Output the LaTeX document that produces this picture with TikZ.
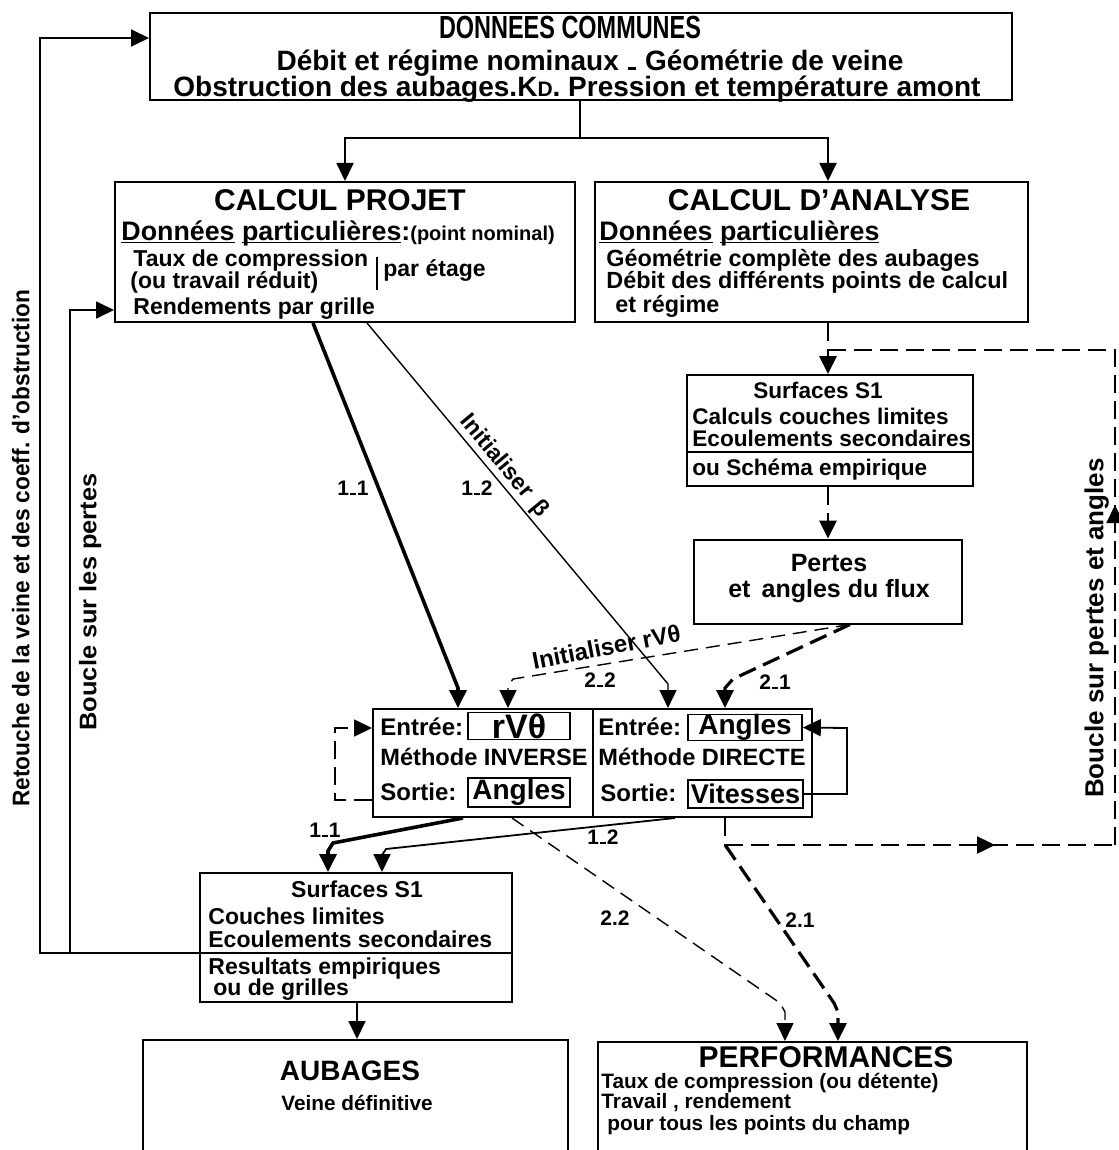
\documentclass[tikz,border=0pt]{standalone}
\usepackage{fontspec}
\setmainfont{Liberation Sans}
\usetikzlibrary{arrows.meta,calc}
\newlength\pxu \setlength\pxu{0.5pt}
\newcommand\fz[1]{\fontsize{#1}{#1}\selectfont}
\newcommand\fitw[2]{\resizebox{#1\pxu}{\height}{#2}}
\newcommand\lowdash{\kern0.04em\rule{0.3em}{0.1em}\kern0.04em}
\newcommand\undl[1]{\setbox0\hbox{#1}\rlap{\rule[-0.12em]{\wd0}{0.07em}}\box0\relax}
\begin{document}
\begin{tikzpicture}[x=0.5pt,y=-0.5pt,font=\bfseries,
  box/.style={draw,line width=1pt,inner sep=0pt},
  sbox/.style={draw,line width=0.8pt,inner sep=0pt},
  ln/.style={line width=0.9pt},
  lnthk/.style={line width=1.8pt},
  lnthin/.style={line width=0.7pt},
  dsh/.style={dash pattern=on 9pt off 4pt},
  dshthin/.style={dash pattern=on 7pt off 4pt},
  arr/.style={-{Triangle[length=9pt,width=8.5pt]}},
  tl/.style={inner sep=0pt,anchor=mid west},
  tc/.style={inner sep=0pt,anchor=mid},
  lab/.style={inner sep=0pt,anchor=mid,font=\bfseries\fz{10.5pt}}]
\useasboundingbox (0,0) rectangle (1118,1150);

% ---------- boxes ----------
\node[box,minimum width=862\pxu,minimum height=87\pxu] (T) at (581,56.5) {};
\node[box,minimum width=460\pxu,minimum height=140\pxu] (P) at (345,252) {};
\node[box,minimum width=433\pxu,minimum height=140\pxu] (A) at (811.5,252) {};
\node[box,minimum width=286\pxu,minimum height=111\pxu] (R) at (830,430.5) {};
\node[box,minimum width=268\pxu,minimum height=84\pxu] (L) at (828,581.5) {};
\node[box,minimum width=439\pxu,minimum height=108\pxu] (M) at (592.5,763) {};
\node[box,minimum width=312\pxu,minimum height=129\pxu] (S) at (356,937.5) {};
\node[box,minimum width=425\pxu,minimum height=140\pxu] (U) at (355.5,1110) {};
\node[box,minimum width=429\pxu,minimum height=140\pxu] (F) at (812.5,1112) {};
\draw[line width=1pt] (R.west |- 0,452) -- (R.east |- 0,452);
\draw[line width=1pt] (M.north -| 593,0) -- (M.south -| 593,0);

% ---------- top box ----------
\node[tc,font=\bfseries\fz{16pt}] (t1) at (570,33) {\fitw{262}{DONNEES COMMUNES}};
\node[tc,font=\bfseries\fz{14pt}] (t2) at (590,65) {Débit et régime nominaux \lowdash{} Géométrie de veine};
\node[tc,font=\bfseries\fz{14pt}] (t3) at (577,91) {Obstruction des aubages.K{\fz{10.5pt}D}. Pression et température amont};

% ---------- calcul projet ----------
\node[tc,font=\bfseries\fz{15pt}] (p1) at (340,205) {CALCUL PROJET};
\node[tl] (p2) at (121,235) {\fz{13.4pt}\undl{Données} \undl{particulières}:\fz{10pt}(point nominal)};
\node[tl,font=\bfseries\fz{11.5pt}] (p3) at (133,261) {Taux de compression};
\node[tl,font=\bfseries\fz{11.5pt}] (p4) at (130,283) {(ou travail réduit)};
\node[tl,font=\bfseries\fz{11.5pt}] (p5) at (383,271) {par étage};
\draw[lnthin] (377,257) -- (377,290);
\node[tl,font=\bfseries\fz{11.5pt}] (p6) at (133,309) {Rendements par grille};

% ---------- calcul d'analyse ----------
\node[tc,font=\bfseries\fz{15pt}] (a1) at (819,205) {CALCUL D’ANALYSE};
\node[tl,font=\bfseries\fz{13.4pt}] (a2) at (599,235) {\undl{Données} \undl{particulières}};
\node[tl,font=\bfseries\fz{11.7pt}] (a3) at (606,261) {Géométrie complète des aubages};
\node[tl,font=\bfseries\fz{11.7pt}] (a4) at (606,283) {Débit des différents points de calcul};
\node[tl,font=\bfseries\fz{11.7pt}] (a5) at (615,307) {et régime};

% ---------- surfaces S1 (right) ----------
\node[tc,font=\bfseries\fz{11.3pt}] (r1) at (818,393) {Surfaces S1};
\node[tl,font=\bfseries\fz{11.3pt}] (r2) at (692,419) {Calculs couches limites};
\node[tl,font=\bfseries\fz{11.3pt}] (r3) at (692,441) {Ecoulements secondaires};
\node[tl,font=\bfseries\fz{11.3pt}] (r4) at (692,470) {ou Schéma empirique};

% ---------- pertes ----------
\node[tc,font=\bfseries\fz{12.5pt}] (l1) at (829,566) {Pertes};
\node[tc,font=\bfseries\fz{12.5pt}] (l2) at (829,592) {et\, angles du flux};

% ---------- methods ----------
\node[tl,font=\bfseries\fz{12pt}] (m1) at (380,730) {Entrée:};
\node[sbox,minimum width=102\pxu,minimum height=27\pxu,font=\bfseries\fz{17pt}] (rv) at (519,726) {rVθ};
\node[tl,font=\bfseries\fz{11.8pt}] (m2) at (380,760) {Méthode INVERSE};
\node[tl,font=\bfseries\fz{12pt}] (m3) at (380,795) {Sortie:};
\node[sbox,minimum width=102\pxu,minimum height=29\pxu,font=\bfseries\fz{14pt}] (angL) at (519,792.5) {Angles};
\node[tl,font=\bfseries\fz{12pt}] (m4) at (598,730) {Entrée:};
\node[sbox,minimum width=114\pxu,minimum height=25\pxu,font=\bfseries\fz{14pt}] (angR) at (745,727.5) {Angles};
\node[tl,font=\bfseries\fz{11.8pt}] (m5) at (598,760) {Méthode DIRECTE};
\node[tl,font=\bfseries\fz{12pt}] (m6) at (600,796) {Sortie:};
\node[sbox,minimum width=115\pxu,minimum height=28\pxu,font=\bfseries\fz{13.5pt}] (vit) at (745.5,794) {Vitesses};

% ---------- surfaces S1 (lower) ----------
\node[tc,font=\bfseries\fz{11.5pt}] (s1) at (357,892) {Surfaces S1};
\node[tl,font=\bfseries\fz{11.5pt}] (s2) at (208,919) {Couches limites};
\node[tl,font=\bfseries\fz{11.5pt}] (s3) at (208,942) {Ecoulements secondaires};
\node[tl,font=\bfseries\fz{11.5pt}] (s4) at (208,969) {Resultats empiriques};
\node[tl,font=\bfseries\fz{11.5pt}] (s5) at (213,990) {ou de grilles};

% ---------- results ----------
\node[tc,font=\bfseries\fz{14pt}] (u1) at (350,1075) {AUBAGES};
\node[tc,font=\bfseries\fz{10.4pt}] (u2) at (357,1105) {Veine définitive};
\node[tc,font=\bfseries\fz{15pt}] (f1) at (826,1062) {PERFORMANCES};
\node[tl,font=\bfseries\fz{10.4pt}] (f2) at (601,1083) {Taux de compression (ou détente)};
\node[tl,font=\bfseries\fz{10.4pt}] (f3) at (601,1103) {Travail , rendement};
\node[tl,font=\bfseries\fz{10.4pt}] (f4) at (607,1125) {pour tous les points du champ};

% ---------- side labels ----------
\node[tc,rotate=90,font=\bfseries\fz{12pt}] (side1) at (24,548) {\fitw{517}{Retouche de la veine et des coeff. d’obstruction}};
\node[tc,rotate=90,font=\bfseries\fz{12pt}] (side2) at (91,602) {\fitw{257}{Boucle sur les pertes}};
\node[tc,rotate=90,font=\bfseries\fz{13pt}] (side3) at (1098,628) {Boucle sur pertes et angles};

% ---------- numeric labels ----------
\node[lab] (n1) at (353,490) {1\lowdash 1};
\node[lab] (n2) at (477,490) {1\lowdash 2};
\node[lab] (n3) at (600,682) {2\lowdash 2};
\node[lab] (n4) at (775,684) {2\lowdash 1};
\node[lab] (n5) at (325,832) {1\lowdash 1};
\node[lab] (n6) at (603,839) {1\lowdash 2};
\node[lab] (n7) at (615,920) {2.2};
\node[lab] (n8) at (800,922) {2.1};
\node[inner sep=0pt,anchor=mid,rotate=11,font=\bfseries\fz{12pt}] (ir) at (607,650) {Initialiser rVθ};

% ---------- connectors ----------
\coordinate (j0) at (580,138);
\draw[ln] (T.south -| j0) -- (j0);
\draw[ln,arr] (j0) -- (j0 -| P.north) -- (P.north);
\coordinate (jB) at (828,138);
\draw[ln,arr] (j0) -- (jB) -- (A.north -| jB);

% left loops
\coordinate (lo) at (40,953);
\draw[ln] (S.west |- lo) -- (S.east |- lo);
\draw[ln,arr] (S.west |- lo) -- (lo) -- (40,38) -- (T.west |- 0,38);
\draw[ln,arr] (70,953) -- (70,310) -- (P.west |- 0,310);

% analysis chain and right loop
\coordinate (jA) at (828,350);
\draw[dsh,line width=1.4pt] (A.south -| jA) -- (jA);
\draw[dsh,line width=1.4pt,arr] (jA) -- (R.north -| jA);
\draw[dsh,line width=1.4pt,arr] (R.south -| jA) -- (L.north -| jA);
\draw[dsh,line width=1.2pt] (jA) -- (1115,350) -- (1115,515);
\coordinate (jV) at (725,845);
\draw[dsh,line width=1.4pt] (M.south -| jV) -- (jV);
\draw[dsh,line width=1.2pt,arr] (jV) -- (995,845);
\draw[dsh,line width=1.2pt] (990,845) -- (1115,845);
\draw[dsh,line width=1.2pt,arr] (1115,845) -- (1115,505);

% pertes to methods
\coordinate (Lo) at (850,625);
\draw[dshthin,lnthin,arr] (L.south -| Lo) -- (513,679) -- (508,686) -- (M.north -| 508,0);
\draw[dsh,line width=1.6pt,arr] (L.south -| Lo) -- (733,679) -- (725,688) -- (M.north -| 725,0);

% projet to methods
\draw[lnthk,arr] (P.south -| 313,0) -- (458,688) -- (M.north -| 458,0);
\draw[lnthin,arr] (P.south -| 367,0) -- node[sloped,above,pos=0.42,inner sep=1pt,font=\bfseries\fz{11.5pt}] (ib) {Initialiser\, β} (668,684) -- (M.north -| 668,0);

% method loops
\draw[dsh,ln,arr] (M.west |- 0,800) -- (335,800) -- (335,728) -- (M.west |- 0,728);
\draw[ln,arr] (vit.east) -- (847,794) -- (847,728) -- (angR.east);

% methods to lower boxes
\draw[lnthk,arr] (M.south -| 463,0) -- (333,843) -- (328,851) -- (S.north -| 328,0);
\draw[ln,arr] (M.south -| 675,0) -- (386,849) -- (382,855) -- (S.north -| 382,0);
\draw[dshthin,lnthin,arr] (M.south -| 512,0) -- (780,1003) -- (785,1012) -- (F.north -| 785,0);
\draw[dsh,line width=1.6pt,arr] (jV) -- (730,852) -- (834,1003) -- (838,1012) -- (F.north -| 838,0);
\draw[ln,arr] (S.south -| 357,0) -- (U.north -| 357,0);
\end{tikzpicture}
\end{document}
